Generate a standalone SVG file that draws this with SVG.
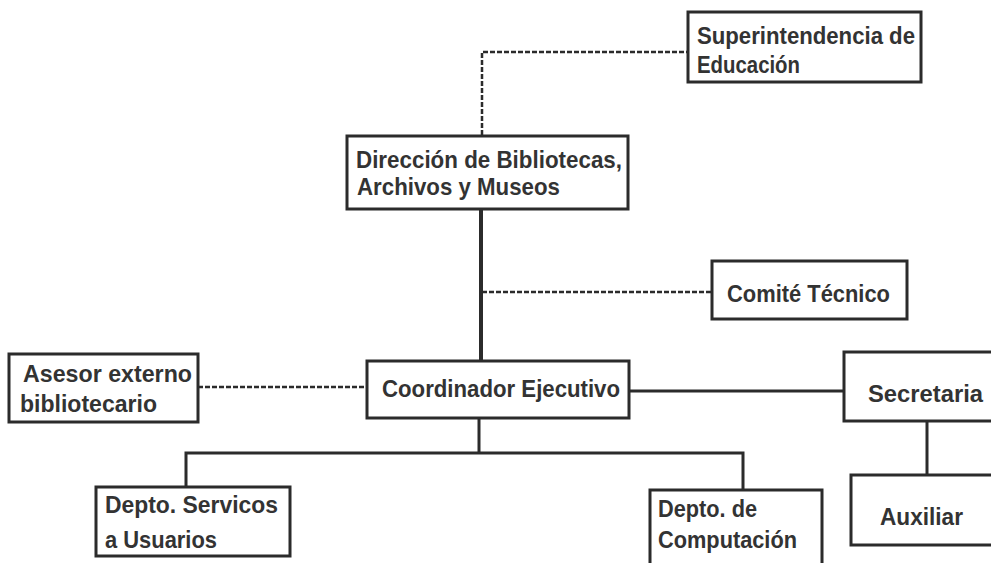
<svg xmlns="http://www.w3.org/2000/svg" width="991" height="563" viewBox="0 0 991 563">
<style>
.box{fill:#fff;stroke:#2b2b2b;stroke-width:3}
.t{font-family:"Liberation Sans",Arial,sans-serif;font-weight:bold;font-size:24px;fill:#333}
.solid{fill:none;stroke:#2b2b2b;stroke-width:3}
.thick{fill:none;stroke:#2b2b2b;stroke-width:4}
.dash{fill:none;stroke:#2b2b2b;stroke-width:2.5;stroke-dasharray:5 2}
</style>
<rect width="991" height="563" fill="#fff"/>
<g id="connectors">
<path class="dash" d="M482 135 V52 H688"/>
<path class="thick" d="M481 209 V361"/>
<path class="dash" d="M482 292 H712"/>
<path class="dash" d="M198 387 H367"/>
<path class="solid" d="M629 391 H844"/>
<path class="solid" d="M479 418 V454"/>
<path class="solid" d="M186 487 V453 H743 V490"/>
<path class="solid" d="M927 421 V475"/>
</g>
<g id="superintendencia">
<rect class="box" x="688" y="12" width="233" height="70"/>
<text class="t" x="697" y="44" textLength="218" lengthAdjust="spacingAndGlyphs">Superintendencia de</text>
<text class="t" x="697" y="73" textLength="103" lengthAdjust="spacingAndGlyphs">Educación</text>
</g>
<g id="direccion">
<rect class="box" x="347" y="136" width="281" height="73"/>
<text class="t" x="356" y="168" textLength="266" lengthAdjust="spacingAndGlyphs">Dirección de Bibliotecas,</text>
<text class="t" x="357" y="195" textLength="203" lengthAdjust="spacingAndGlyphs">Archivos y Museos</text>
</g>
<g id="comite">
<rect class="box" x="712" y="261" width="195" height="58"/>
<text class="t" x="727" y="302" textLength="163" lengthAdjust="spacingAndGlyphs">Comité Técnico</text>
</g>
<g id="asesor">
<rect class="box" x="9" y="354" width="189" height="68"/>
<text class="t" x="23" y="382" textLength="169" lengthAdjust="spacingAndGlyphs">Asesor externo</text>
<text class="t" x="20" y="412" textLength="137" lengthAdjust="spacingAndGlyphs">bibliotecario</text>
</g>
<g id="coordinador">
<rect class="box" x="367" y="361" width="262" height="57"/>
<text class="t" x="382" y="397" textLength="238" lengthAdjust="spacingAndGlyphs">Coordinador Ejecutivo</text>
</g>
<g id="secretaria">
<rect class="box" x="844" y="352" width="160" height="69"/>
<text class="t" x="868" y="402" textLength="115" lengthAdjust="spacingAndGlyphs">Secretaria</text>
</g>
<g id="auxiliar">
<rect class="box" x="851" y="475" width="153" height="70"/>
<text class="t" x="880" y="525" textLength="83" lengthAdjust="spacingAndGlyphs">Auxiliar</text>
</g>
<g id="servicios">
<rect class="box" x="96" y="487" width="194" height="69"/>
<text class="t" x="105" y="513" textLength="173" lengthAdjust="spacingAndGlyphs">Depto. Servicos</text>
<text class="t" x="105" y="548" textLength="112" lengthAdjust="spacingAndGlyphs">a Usuarios</text>
</g>
<g id="computacion">
<rect class="box" x="650" y="490" width="172" height="90"/>
<text class="t" x="658" y="517" textLength="99" lengthAdjust="spacingAndGlyphs">Depto. de</text>
<text class="t" x="658" y="548" textLength="139" lengthAdjust="spacingAndGlyphs">Computación</text>
</g>
</svg>
